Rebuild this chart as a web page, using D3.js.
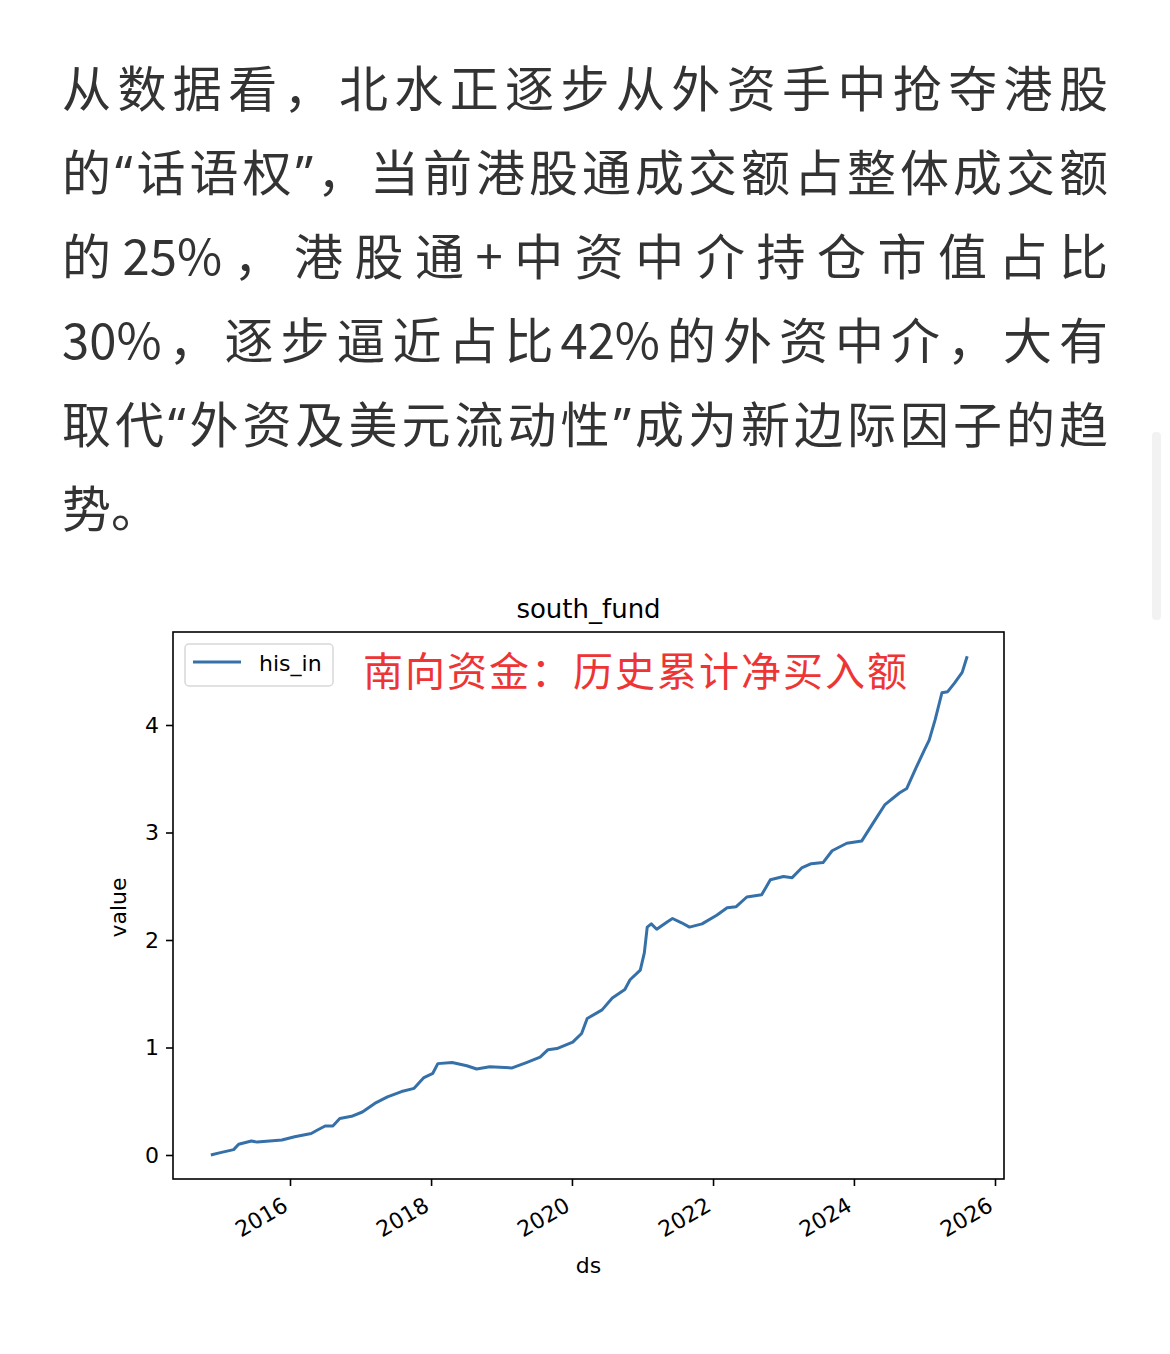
<!DOCTYPE html>
<html>
<head>
<meta charset="utf-8">
<script src="https://cdn.jsdelivr.net/npm/d3@7"></script>
<style>
  html, body { margin: 0; padding: 0; background: #fff; }
  svg { display: block; }
  .para { font-family: "Noto Sans CJK SC", "Noto Sans", sans-serif; font-size: 49px; fill: #333; }
  .para.quote { font-family: "Noto Sans", sans-serif; }
  .mpl { font-family: "DejaVu Sans", sans-serif; fill: #000; }
  .axis path, .axis line { stroke: #000; stroke-width: 1.6; }
  .axis text { font-family: "DejaVu Sans", sans-serif; font-size: 22px; fill: #000; }
</style>
</head>
<body>
<div id="chart"></div>
<script>
// paragraph above the chart, one entry per rendered line
var paraLines = [
  "从数据看，北水正逐步从外资手中抢夺港股",
  "的“话语权”，当前港股通成交额占整体成交额",
  "的25%，港股通+中资中介持仓市值占比",
  "30%，逐步逼近占比42%的外资中介，大有",
  "取代“外资及美元流动性”成为新边际因子的趋",
  "势。"
];

// south_fund / his_in : cumulative southbound net buying
var dates = [
  "2014-11-17","2014-12-31","2015-03-15","2015-04-10","2015-06-15","2015-07-15","2015-11-20",
  "2016-01-25","2016-04-20","2016-05-20","2016-07-01","2016-08-10","2016-09-15","2016-11-15",
  "2017-01-10","2017-03-15","2017-05-20","2017-08-01","2017-10-05","2017-11-25",
  "2018-01-10","2018-02-05","2018-04-20","2018-07-05","2018-08-25","2018-11-01",
  "2019-02-25","2019-05-10","2019-07-20","2019-08-30","2019-10-15",
  "2020-01-05","2020-02-20","2020-03-20","2020-06-05","2020-07-28","2020-10-01","2020-10-28","2020-12-20",
  "2021-01-10","2021-01-25","2021-02-15","2021-03-15","2021-05-10","2021-06-05","2021-07-22","2021-09-01","2021-11-05",
  "2022-01-20","2022-03-15","2022-05-01","2022-06-25","2022-09-10","2022-10-25",
  "2023-01-01","2023-02-15","2023-04-05","2023-05-25","2023-07-25","2023-09-10","2023-11-25",
  "2024-02-10","2024-04-10","2024-06-10","2024-08-25","2024-10-01","2024-11-20",
  "2025-01-01","2025-01-25","2025-02-25","2025-04-01","2025-05-01","2025-06-05","2025-07-15","2025-08-10"
];
var hisIn = [
  0.00,0.02,0.05,0.10,0.13,0.12,0.14,
  0.17,0.20,0.23,0.27,0.27,0.34,0.36,
  0.40,0.48,0.54,0.59,0.62,0.72,
  0.76,0.85,0.86,0.83,0.80,0.82,
  0.81,0.86,0.91,0.98,0.99,
  1.05,1.13,1.27,1.35,1.46,1.54,1.63,1.72,
  1.88,2.12,2.15,2.10,2.17,2.20,2.16,2.12,2.15,
  2.23,2.30,2.31,2.40,2.42,2.56,
  2.59,2.58,2.67,2.71,2.72,2.83,2.90,
  2.92,3.09,3.26,3.37,3.41,3.61,
  3.77,3.86,4.05,4.30,4.31,4.39,4.49,4.64
];
var yTicks = [0, 1, 2, 3, 4];
var xTickYears = [2016, 2018, 2020, 2022, 2024, 2026];

var W = 1170, H = 1354;
var svg = d3.select("#chart").append("svg")
  .attr("width", W).attr("height", H);

// scrollbar-ish strip on the right edge
svg.append("rect")
  .attr("x", 1152).attr("y", 432).attr("width", 9).attr("height", 188)
  .attr("rx", 4).attr("fill", "#f2f2f2");

// paragraph, justified like the article: each glyph (or latin run) placed on its own
var paraTop = 107, paraStep = 84, paraLeft = 62, paraWidth = 1046;
paraLines.forEach(function(line, i){
  var tokens = line.match(/[A-Za-z0-9%+.]+|./g);
  var g = svg.append("g");
  var widths = [];
  var nodes = tokens.map(function(tk){
    var t = g.append("text")
      .attr("class", (tk == "“" || tk == "”") ? "para quote" : "para")
      .attr("y", paraTop + i*paraStep)
      .text(tk);
    widths.push(t.node().getComputedTextLength());
    return t;
  });
  var total = d3.sum(widths);
  var gap = (i < paraLines.length - 1 && tokens.length > 1) ? (paraWidth - total)/(tokens.length - 1) : 0;
  var cx = paraLeft;
  nodes.forEach(function(t, k){
    t.attr("x", cx);
    cx += widths[k] + gap;
  });
});

// plot area
var plot = {left: 173, right: 1004, top: 632, bottom: 1179};
var parse = d3.timeParse("%Y-%m-%d");
var series = dates.map(function(d, i){ return {date: parse(d), value: hisIn[i]}; });

// 2016 tick sits at x=290, 2026 at x=995
var t2016 = new Date(2016, 0, 1), t2026 = new Date(2026, 0, 1);
var pxPerMs = (995 - 290) / (t2026 - t2016);
var x = d3.scaleTime()
  .domain([
    new Date(+t2016 - (290 - plot.left)/pxPerMs),
    new Date(+t2016 + (plot.right - 290)/pxPerMs)
  ])
  .range([plot.left, plot.right]);

// 0 at y=1155, 107.5px per unit
var y = d3.scaleLinear()
  .domain([-(plot.bottom - 1155)/107.5, (1155 - plot.top)/107.5])
  .range([plot.bottom, plot.top]);

// title
svg.append("text")
  .attr("class", "mpl")
  .attr("x", (plot.left + plot.right)/2)
  .attr("y", 618)
  .attr("text-anchor", "middle")
  .style("font-size", "26px")
  .text("south_fund");

// line
svg.append("path")
  .datum(series)
  .attr("fill", "none")
  .attr("stroke", "#3670a8")
  .attr("stroke-width", 3)
  .attr("stroke-linejoin", "round")
  .attr("d", d3.line()
    .x(function(d){ return x(d.date); })
    .y(function(d){ return y(d.value); }));

// axes
var yAxis = svg.append("g")
  .attr("class", "axis")
  .attr("transform", "translate(" + plot.left + ",0)")
  .call(d3.axisLeft(y).tickValues(yTicks).tickSize(7).tickPadding(7).tickFormat(d3.format("d")));
yAxis.select(".domain").remove();

var xAxis = svg.append("g")
  .attr("class", "axis")
  .attr("transform", "translate(0," + plot.bottom + ")")
  .call(d3.axisBottom(x)
    .tickValues(xTickYears.map(function(yr){ return new Date(yr, 0, 1); }))
    .tickSize(7)
    .tickFormat(d3.timeFormat("%Y")));
xAxis.select(".domain").remove();
xAxis.selectAll("text")
  .attr("text-anchor", "end")
  .attr("dy", null)
  .attr("y", 0)
  .attr("x", 0)
  .attr("transform", "translate(-9,17) rotate(-30)")
  .attr("dominant-baseline", "hanging");

// frame
svg.append("rect")
  .attr("x", plot.left).attr("y", plot.top)
  .attr("width", plot.right - plot.left).attr("height", plot.bottom - plot.top)
  .attr("fill", "none").attr("stroke", "#000").attr("stroke-width", 1.6);

// axis labels
svg.append("text")
  .attr("class", "mpl")
  .attr("x", (plot.left + plot.right)/2)
  .attr("y", 1273)
  .attr("text-anchor", "middle")
  .style("font-size", "22px")
  .text("ds");
svg.append("text")
  .attr("class", "mpl")
  .attr("transform", "translate(126," + ((plot.top + plot.bottom)/2 + 2) + ") rotate(-90)")
  .attr("text-anchor", "middle")
  .style("font-size", "22px")
  .text("value");

// legend
var legend = svg.append("g");
legend.append("rect")
  .attr("x", 185).attr("y", 644).attr("width", 148).attr("height", 42)
  .attr("rx", 4).attr("fill", "#fff")
  .attr("stroke", "#d8d8d8").attr("stroke-width", 1.5);
legend.append("line")
  .attr("x1", 193).attr("x2", 241).attr("y1", 662).attr("y2", 662)
  .attr("stroke", "#3670a8").attr("stroke-width", 3);
legend.append("text")
  .attr("class", "mpl")
  .attr("x", 259).attr("y", 671)
  .style("font-size", "22px")
  .text("his_in");

// red annotation
svg.append("text")
  .attr("x", 363).attr("y", 686)
  .attr("textLength", 544).attr("lengthAdjust", "spacing")
  .style("font-family", "'Noto Sans CJK SC', sans-serif")
  .style("font-size", "40px")
  .attr("fill", "#ee3535")
  .text("南向资金：历史累计净买入额");
</script>
</body>
</html>
